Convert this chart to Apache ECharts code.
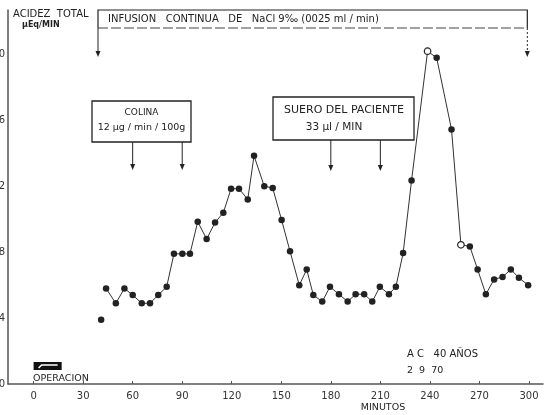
<!DOCTYPE html>
<html><head><meta charset="utf-8">
<script src="https://cdn.jsdelivr.net/npm/echarts@6/dist/echarts.min.js"></script>
<style>html,body{margin:0;padding:0;background:#fff}#c{width:551px;height:415px}</style>
</head><body><div id="c"></div>
<script>
// Time (minutes) of each measurement
const minutes = [43.9,49.8,55.0,60.0,65.5,70.5,75.5,80.6,85.0,90.1,
  94.7,99.4,104.8,109.9,114.9,119.6,124.4,129.7,133.5,139.7,
  144.8,150.2,155.3,160.9,165.4,169.4,174.8,179.5,184.9,190.2,
  195.0,200.2,205.1,209.7,215.2,219.4,223.8,228.9,238.6,244.1,
  253.1,258.8,264.2,268.9,273.9,278.9,284.0,289.0,293.9,299.5];
// Total acidity (µEq/min)
const acidity = [5.8,4.9,5.8,5.4,4.9,4.9,5.4,5.9,7.9,7.9,
  7.9,9.85,8.8,9.8,10.4,11.85,11.85,11.2,13.85,12.0,
  11.9,9.95,8.05,6.0,6.95,5.4,5.0,5.9,5.45,5.0,
  5.45,5.45,5.0,5.9,5.45,5.9,7.95,12.35,20.2,19.8,
  15.45,8.45,8.35,6.95,5.45,6.35,6.5,6.95,6.45,6.0];
const hollowMinutes = [238.6, 258.8];
const isolatedMinute = [40.9];
const isolatedAcidity = [3.9];
const xTicks = [0,30,60,90,120,150,180,210,240,270,300];
const yTicks = [0,4,8,12,16,20];
const infusionTimes = [39, 299];
const colinaTimes = [60, 90];
const sueroTimes = [180, 210];
const operationTimes = [0, 17];

const FONT = 'DejaVu Sans';
const INK = '#222';
const chart = echarts.init(document.getElementById('c'), null, {renderer:'canvas'});

const lineData = minutes.map((t,i)=>{
  const d = {value:[t, acidity[i]]};
  if (hollowMinutes.includes(t)) d.itemStyle = {color:'#fff', borderColor:INK, borderWidth:1.2};
  return d;
});

chart.setOption({
  animation:false,
  backgroundColor:'#fff',
  grid:{left:8, right:8, top:10, bottom:31, containLabel:false, outerBoundsMode:'none'},
  xAxis:{type:'value', min:-15.5, max:308.5,
    axisLine:{show:true, onZero:false, lineStyle:{color:'#555', width:1.5}},
    axisTick:{show:true, inside:true, length:3, customValues:xTicks, lineStyle:{color:'#555'}},
    axisLabel:{customValues:xTicks, margin:7, fontFamily:FONT, fontSize:10, color:'#333'},
    splitLine:{show:false}},
  yAxis:{type:'value', min:0, max:22.7,
    axisLine:{show:true, onZero:false, lineStyle:{color:'#555', width:1.5}},
    axisTick:{show:false},
    axisLabel:{customValues:yTicks, margin:3, fontFamily:FONT, fontSize:10, color:'#333'},
    splitLine:{show:false}},
  series:[
    {type:'line', data:lineData, symbol:'circle', symbolSize:6.5,
      itemStyle:{color:INK}, lineStyle:{color:'#333', width:1}, z:3},
    {type:'scatter', data:isolatedMinute.map((t,i)=>[t, isolatedAcidity[i]]),
      symbol:'circle', symbolSize:6.5, itemStyle:{color:INK, opacity:1}}
  ]
});

const px = t => chart.convertToPixel({xAxisIndex:0}, t);
function arrow(x, y1, y2, dash){
  return [
    {type:'line', shape:{x1:x,y1:y1,x2:x,y2:y2-5}, style:{stroke:INK, lineWidth:1, lineDash:dash||null}},
    {type:'polygon', shape:{points:[[x-2.5,y2-6],[x+2.5,y2-6],[x,y2]]}, style:{fill:INK}}
  ];
}
function txt(x, y, s, size, align, weight){
  return {type:'text', x:x, y:y, style:{text:s, fontFamily:FONT, fontSize:size, fill:INK,
    align:align||'left', verticalAlign:'middle', fontWeight:weight||'normal'}};
}
const ix1 = px(infusionTimes[0]), ix2 = px(infusionTimes[1]);
const cx1 = px(colinaTimes[0]), cx2 = px(colinaTimes[1]);
const sx1 = px(sueroTimes[0]), sx2 = px(sueroTimes[1]);
const ox1 = px(operationTimes[0]), ox2 = px(operationTimes[1]);

const g = [];
// infusion bracket
g.push({type:'polyline', shape:{points:[[ix1,28],[ix1,10],[ix2,10],[ix2,28]]}, style:{stroke:INK, lineWidth:1.2, fill:null}});
g.push({type:'line', shape:{x1:ix1,y1:28,x2:ix2,y2:28}, style:{stroke:'#444', lineWidth:1, lineDash:[10,3]}});
g.push(...arrow(ix1, 28, 57));
g.push(...arrow(ix2, 28, 57, [2,2]));
g.push(txt(108, 19, 'INFUSION   CONTINUA   DE   NaCl 9‰ (0025 ml / min)', 10));
// y-axis title
g.push(txt(13, 14, 'ACIDEZ  TOTAL', 10));
g.push(txt(22, 25, 'μEq/MIN', 8, 'left', 'bold'));
// colina box
g.push({type:'rect', shape:{x:92, y:101, width:99, height:41}, style:{stroke:INK, lineWidth:1.3, fill:'#fff'}});
g.push(txt(141.5, 113, 'COLINA', 9, 'center'));
g.push(txt(141.5, 128, '12 μg / min / 100g', 9.5, 'center'));
g.push(...arrow(cx1, 142, 170));
g.push(...arrow(cx2, 142, 170));
// suero box
g.push({type:'rect', shape:{x:273, y:97, width:141, height:43}, style:{stroke:INK, lineWidth:1.3, fill:'#fff'}});
g.push(txt(344, 110, 'SUERO DEL PACIENTE', 11, 'center'));
g.push(txt(334, 127, '33 μl / MIN', 10.5, 'center'));
g.push(...arrow(sx1, 140, 171));
g.push(...arrow(sx2, 140, 171));
// operation
g.push({type:'rect', shape:{x:ox1, y:362, width:ox2-ox1, height:8}, style:{fill:'#111'}});
g.push({type:'polyline', shape:{points:[[ox1+5,368],[ox1+8,365],[ox2-4,365]]}, style:{stroke:'#fff', lineWidth:1.5, fill:null}});
g.push(txt(33, 379, 'OPERACION', 9.5));
// patient
g.push(txt(407, 354, 'A C   40 AÑOS', 10));
g.push(txt(407, 371, '2  9  70', 9.5));
g.push(txt(383, 408, 'MINUTOS', 9.5, 'center'));

chart.setOption({graphic:{elements:g}});
</script>
</body></html>
